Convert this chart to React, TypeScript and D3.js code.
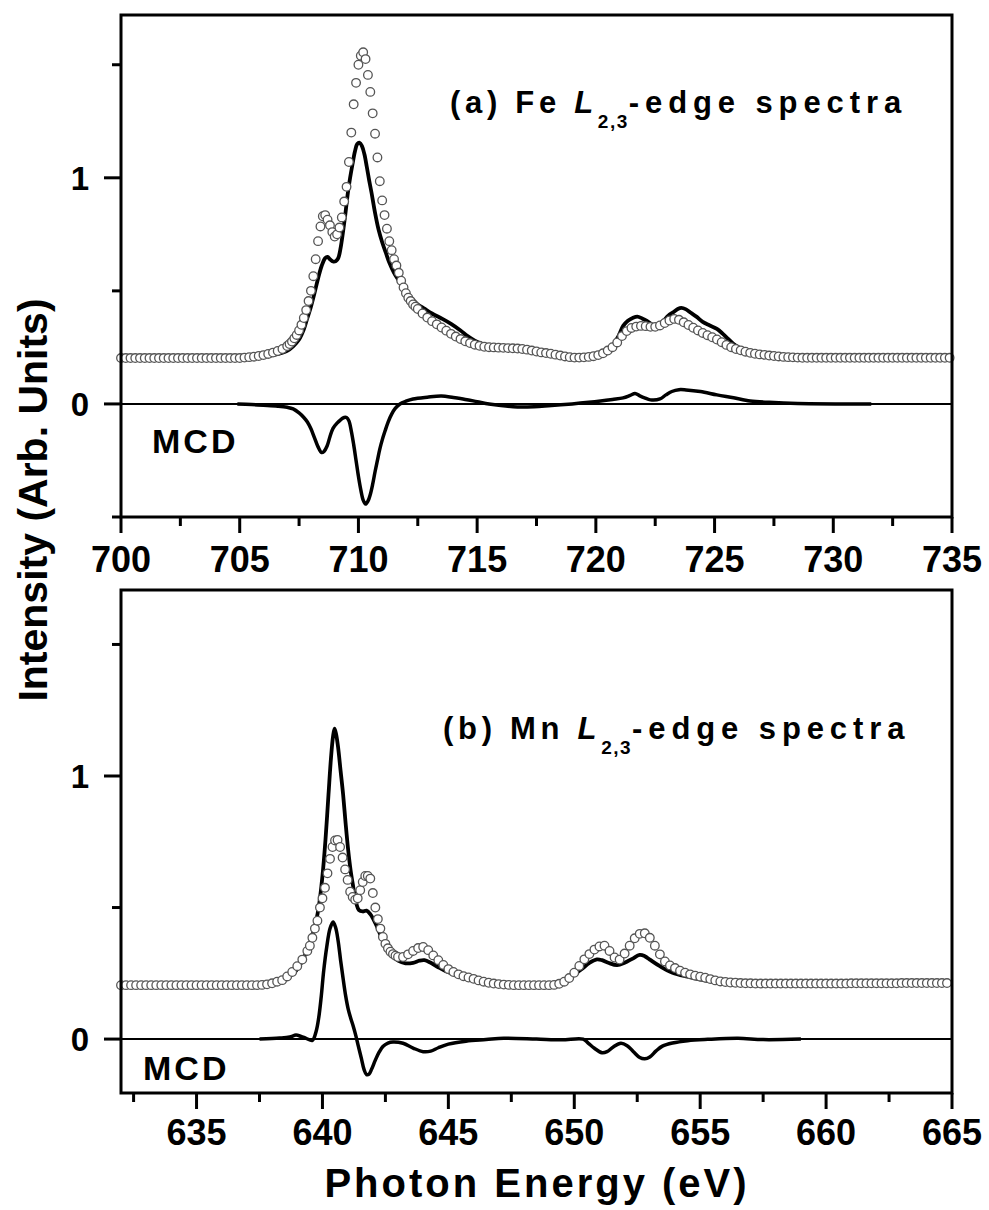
import React from 'react';
import * as d3 from 'd3';

type Pt = [number, number];

// ---- (a) Fe L2,3-edge ----
// XAS (open circles)
const feXasPts: Pt[] = [
  [700, .203], [700.2, .203], [700.4, .203], [700.6, .203], [700.8, .203], [701, .203], [701.2, .203], [701.4, .203],
  [701.6, .203], [701.8, .203], [702, .203], [702.2, .203], [702.4, .203], [702.6, .203], [702.8, .203], [703, .203],
  [703.2, .203], [703.4, .203], [703.6, .203], [703.8, .203], [704, .203], [704.2, .203], [704.4, .203], [704.6, .203],
  [704.8, .203], [705, .203], [705.2, .205], [705.4, .207], [705.6, .209], [705.8, .212], [706, .216], [706.2, .221],
  [706.4, .227], [706.6, .234], [706.8, .243], [707, .256], [707.1, .265], [707.2, .276], [707.3, .29], [707.4, .305],
  [707.5, .325], [707.6, .35], [707.7, .38], [707.8, .415], [707.9, .455], [708, .5], [708.1, .565], [708.2, .64],
  [708.3, .72], [708.4, .785], [708.5, .83], [708.6, .835], [708.7, .815], [708.8, .79], [708.9, .76], [709, .74],
  [709.1, .75], [709.2, .78], [709.3, .825], [709.4, .895], [709.5, .96], [709.6, 1.07], [709.7, 1.2], [709.8, 1.325],
  [709.9, 1.42], [710, 1.5], [710.1, 1.54], [710.2, 1.555], [710.3, 1.525], [710.4, 1.455], [710.5, 1.38], [710.6, 1.285],
  [710.7, 1.195], [710.8, 1.09], [710.9, .985], [711, .9], [711.1, .835], [711.2, .775], [711.3, .72], [711.4, .68],
  [711.5, .64], [711.6, .612], [711.7, .58], [711.8, .545], [711.9, .515], [712, .49], [712.1, .47], [712.2, .455],
  [712.3, .44], [712.4, .43], [712.5, .42], [712.7, .4], [712.9, .382], [713.1, .366], [713.3, .352], [713.5, .338],
  [713.7, .324], [713.9, .31], [714.1, .298], [714.3, .287], [714.5, .277], [714.7, .269], [714.9, .262], [715.1, .257],
  [715.3, .253], [715.5, .251], [715.7, .25], [715.9, .249], [716.1, .248], [716.3, .247], [716.5, .246], [716.7, .245],
  [716.9, .243], [717.1, .24], [717.3, .236], [717.5, .232], [717.7, .228], [717.9, .225], [718.1, .222], [718.3, .218],
  [718.5, .214], [718.7, .21], [718.9, .207], [719.1, .205], [719.3, .205], [719.5, .206], [719.7, .208], [719.9, .211],
  [720.1, .216], [720.3, .224], [720.5, .236], [720.7, .251], [720.9, .272], [721.1, .3], [721.3, .322], [721.5, .336],
  [721.7, .342], [721.9, .345], [722.1, .344], [722.3, .341], [722.5, .341], [722.7, .347], [722.9, .358], [723.1, .369],
  [723.3, .376], [723.5, .372], [723.7, .361], [723.9, .349], [724.1, .337], [724.3, .325], [724.5, .314], [724.7, .304],
  [724.9, .295], [725.1, .285], [725.3, .273], [725.5, .261], [725.7, .251], [725.9, .243], [726.1, .237], [726.3, .231],
  [726.5, .226], [726.7, .222], [726.9, .219], [727.1, .217], [727.3, .214], [727.5, .212], [727.7, .21], [727.9, .208],
  [728.1, .207], [728.3, .206], [728.5, .205], [728.7, .204], [728.9, .204], [729.1, .204], [729.3, .204], [729.5, .204],
  [729.7, .204], [729.9, .204], [730.1, .204], [730.3, .204], [730.5, .204], [730.7, .204], [730.9, .204], [731.1, .204],
  [731.3, .204], [731.5, .204], [731.7, .204], [731.9, .204], [732.1, .204], [732.3, .204], [732.5, .204], [732.7, .204],
  [732.9, .204], [733.1, .204], [733.3, .204], [733.5, .204], [733.7, .204], [733.9, .204], [734.1, .204], [734.3, .204],
  [734.5, .204], [734.7, .204], [734.9, .204],
];
// XAS (solid line)
const feXasLine: Pt[] = [
  [705, .203], [705.5, .205], [706, .21], [706.5, .218], [707, .235], [707.25, .255], [707.5, .285], [707.7, .33],
  [707.85, .38], [708, .43], [708.15, .49], [708.3, .555], [708.45, .61], [708.6, .645], [708.7, .65], [708.8, .64],
  [708.93, .63], [709.05, .632], [709.15, .645], [709.25, .69], [709.35, .76], [709.45, .84], [709.55, .93], [709.65, 1.0],
  [709.75, 1.06], [709.85, 1.115], [709.95, 1.15], [710.05, 1.155], [710.15, 1.14], [710.25, 1.105], [710.35, 1.05],
  [710.45, .99], [710.55, .935], [710.7, .845], [710.85, .77], [711, .715], [711.15, .67], [711.3, .625], [711.5, .58],
  [711.7, .545], [711.9, .51], [712.1, .48], [712.3, .46], [712.5, .44], [712.8, .42], [713.1, .4], [713.5, .378],
  [713.9, .354], [714.3, .325], [714.6, .3], [714.9, .28], [715.3, .262], [715.8, .252], [716.4, .25], [716.9, .245],
  [717.5, .235], [718.1, .224], [718.7, .212], [719.2, .205], [719.7, .21], [720.2, .226], [720.5, .245], [720.75, .265],
  [720.95, .3], [721.15, .345], [721.35, .368], [721.55, .38], [721.75, .386], [721.95, .378], [722.15, .367], [722.35, .352],
  [722.5, .345], [722.65, .352], [722.85, .368], [723.05, .39], [723.25, .405], [723.45, .42], [723.6, .425], [723.8, .418],
  [724, .403], [724.25, .385], [724.5, .363], [724.8, .347], [725.1, .332], [725.35, .31], [725.55, .29], [725.8, .265],
  [726.1, .245], [726.5, .23], [727, .219], [727.5, .212], [728, .208], [728.5, .205],
];
// MCD
const feMcd: Pt[] = [
  [704.9, 0], [705.5, -.003], [706, -.006], [706.6, -.01], [707, -.015], [707.25, -.022], [707.5, -.04], [707.7, -.06],
  [707.85, -.08], [708, -.11], [708.15, -.15], [708.3, -.19], [708.45, -.215], [708.55, -.21], [708.68, -.186],
  [708.8, -.145], [708.93, -.108], [709.1, -.085], [709.25, -.07], [709.4, -.06], [709.5, -.06], [709.6, -.075],
  [709.7, -.12], [709.8, -.18], [709.9, -.25], [710, -.32], [710.1, -.38], [710.2, -.425], [710.3, -.443], [710.4, -.43],
  [710.5, -.4], [710.6, -.355], [710.7, -.3], [710.8, -.25], [710.9, -.2], [711, -.16], [711.12, -.12], [711.25, -.08],
  [711.4, -.045], [711.55, -.02], [711.75, 0], [712, .012], [712.3, .022], [712.9, .03], [713.5, .035], [714, .028],
  [714.5, .02], [715, .01], [715.5, 0], [716, -.007], [716.7, -.013], [717.4, -.012], [718, -.008], [719, 0],
  [719.7, .007], [720.2, .013], [720.7, .02], [721.15, .027], [721.45, .038], [721.65, .046], [721.85, .036],
  [722.05, .027], [722.3, .018], [722.7, .022], [722.95, .04], [723.2, .055], [723.5, .063], [723.8, .062], [724.4, .055],
  [725.1, .04], [725.8, .027], [726.5, .013], [727.3, .007], [728.5, .002], [731.6, 0],
];

// ---- (b) Mn L2,3-edge ----
const mnXasPts: Pt[] = [
  [632, .205], [632.2, .205], [632.4, .205], [632.6, .205], [632.8, .205], [633, .205], [633.2, .205], [633.4, .205],
  [633.6, .205], [633.8, .205], [634, .205], [634.2, .205], [634.4, .205], [634.6, .205], [634.8, .205], [635, .205],
  [635.2, .205], [635.4, .205], [635.6, .205], [635.8, .205], [636, .205], [636.2, .205], [636.4, .205], [636.6, .205],
  [636.8, .205], [637, .205], [637.2, .205], [637.4, .205], [637.6, .206], [637.8, .208], [638, .212], [638.2, .218],
  [638.4, .224], [638.6, .238], [638.8, .255], [639, .277], [639.2, .302], [639.4, .335], [639.5, .355], [639.6, .385],
  [639.7, .42], [639.8, .45], [639.9, .5], [640, .535], [640.1, .575], [640.2, .63], [640.3, .685], [640.4, .73],
  [640.5, .755], [640.6, .757], [640.7, .73], [640.8, .69], [640.9, .645], [641, .605], [641.1, .56], [641.2, .54],
  [641.3, .53], [641.4, .535], [641.5, .566], [641.6, .597], [641.7, .62], [641.8, .62], [641.9, .61], [642, .555],
  [642.1, .5], [642.2, .456], [642.3, .42], [642.4, .388], [642.5, .362], [642.6, .345], [642.7, .332], [642.8, .323],
  [642.9, .317], [643, .312], [643.2, .312], [643.4, .322], [643.6, .335], [643.8, .346], [644, .35], [644.2, .338],
  [644.4, .318], [644.6, .3], [644.8, .282], [645, .266], [645.2, .255], [645.4, .246], [645.6, .239], [645.8, .234],
  [646, .229], [646.2, .223], [646.4, .218], [646.6, .214], [646.8, .211], [647, .209], [647.2, .207], [647.4, .206],
  [647.6, .205], [647.8, .205], [648, .205], [648.2, .205], [648.4, .205], [648.6, .205], [648.8, .205], [649, .205],
  [649.2, .206], [649.4, .21], [649.6, .218], [649.8, .232], [650, .252], [650.2, .278], [650.4, .303], [650.6, .323],
  [650.8, .34], [651, .352], [651.2, .355], [651.4, .335], [651.6, .31], [651.8, .302], [652, .325], [652.2, .355],
  [652.4, .383], [652.6, .4], [652.8, .402], [653, .385], [653.2, .355], [653.4, .322], [653.6, .295], [653.8, .28],
  [654, .27], [654.2, .26], [654.4, .252], [654.6, .246], [654.8, .241], [655, .237], [655.2, .233], [655.4, .228],
  [655.6, .223], [655.8, .219], [656, .217], [656.2, .215], [656.4, .214], [656.6, .213], [656.8, .212], [657, .212],
  [657.2, .211], [657.4, .211], [657.6, .211], [657.8, .211], [658, .211], [658.2, .211], [658.4, .211], [658.6, .211],
  [658.8, .211], [659, .211], [659.2, .211], [659.4, .211], [659.6, .211], [659.8, .211], [660, .211], [660.2, .211],
  [660.4, .211], [660.6, .211], [660.8, .211], [661, .212], [661.2, .212], [661.4, .212], [661.6, .212], [661.8, .212],
  [662, .212], [662.2, .212], [662.4, .212], [662.6, .212], [662.8, .212], [663, .213], [663.2, .213], [663.4, .213],
  [663.6, .213], [663.8, .213], [664, .213], [664.2, .213], [664.4, .213], [664.6, .213], [664.8, .213],
];
const mnXasLine: Pt[] = [
  [636.5, .205], [637, .206], [637.5, .208], [638, .215], [638.4, .226], [638.8, .245], [639.1, .28], [639.4, .34],
  [639.65, .41], [639.85, .5], [640, .62], [640.12, .757], [640.24, .93], [640.34, 1.07], [640.42, 1.15], [640.48, 1.18],
  [640.54, 1.16], [640.62, 1.11], [640.72, 1.02], [640.82, .93], [640.92, .82], [641.02, .72], [641.12, .64], [641.22, .58],
  [641.32, .525], [641.45, .49], [641.6, .485], [641.75, .488], [641.9, .475], [642.05, .45], [642.2, .42], [642.35, .385],
  [642.55, .348], [642.8, .315], [643, .298], [643.3, .288], [643.6, .29], [643.85, .298], [644.05, .3], [644.3, .29],
  [644.6, .273], [644.9, .258], [645.35, .243], [646, .228], [646.8, .214], [647.5, .207], [648.5, .205], [649.05, .206],
  [649.4, .215], [649.75, .228], [650, .245], [650.3, .266], [650.6, .29], [650.9, .303], [651.1, .3], [651.35, .29],
  [651.7, .281], [652, .29], [652.3, .305], [652.6, .32], [652.8, .315], [653, .302], [653.4, .277], [653.9, .252],
  [654.5, .237], [655.5, .218], [656.3, .21], [657.5, .206], [659, .205],
];
const mnMcd: Pt[] = [
  [637.5, 0], [638.3, .004], [638.7, .008], [638.95, .015], [639.15, .01], [639.35, .003], [639.6, -.005], [639.75, .03],
  [639.85, .08], [639.95, .16], [640.05, .26], [640.17, .35], [640.3, .42], [640.42, .445], [640.52, .425], [640.62, .375],
  [640.72, .3], [640.82, .23], [640.92, .165], [641.02, .115], [641.12, .08], [641.22, .05], [641.32, .015], [641.42, -.025],
  [641.55, -.075], [641.65, -.115], [641.75, -.135], [641.85, -.133], [641.95, -.115], [642.1, -.08], [642.25, -.05],
  [642.4, -.028], [642.6, -.015], [642.8, -.011], [643.2, -.016], [643.6, -.034], [644, -.048], [644.3, -.046],
  [644.6, -.033], [645, -.019], [645.7, -.008], [646.5, -.002], [647.2, .003], [648.5, 0], [649.5, -.003], [650.35, 0],
  [650.55, -.015], [650.8, -.035], [651.1, -.052], [651.3, -.048], [651.55, -.03], [651.85, -.016], [652.1, -.025],
  [652.35, -.048], [652.6, -.07], [652.8, -.075], [653, -.068], [653.25, -.045], [653.5, -.027], [653.9, -.015],
  [654.5, -.006], [655.3, -.001], [656.5, .003], [657.5, -.002], [659, 0],
];

// ticks
const feMajor = [700, 705, 710, 715, 720, 725, 730, 735];
const feMinor = [702.5, 707.5, 712.5, 717.5, 722.5, 727.5, 732.5];
const mnMajor = [635, 640, 645, 650, 655, 660, 665];
const mnMinor = [632.5, 637.5, 642.5, 647.5, 652.5, 657.5, 662.5];
const yMajor = [0, 1];
const feYMinor = [-0.5, 0.5, 1.5];
const mnYMinor = [0.5, 1.5];

const FONT = '"Liberation Sans", Arial, Helvetica, sans-serif';
const L = 121;
const R = 952;

type PanelProps = {
  xDomain: [number, number];
  yDomain: [number, number];
  top: number;
  bottom: number;
  major: number[];
  minor: number[];
  yMinor: number[];
  pts: Pt[];
  xasLine: Pt[];
  mcd: Pt[];
  xLabelY: number;
  mcdX: number;
  mcdY: number;
  title: string;
  titleX: number;
  titleY: number;
};

function Panel(p: PanelProps) {
  const x = d3.scaleLinear().domain(p.xDomain).range([L, R]);
  const y = d3.scaleLinear().domain(p.yDomain).range([p.bottom, p.top]);
  const line = d3.line<Pt>().x(d => x(d[0])).y(d => y(d[1])).curve(d3.curveCatmullRom.alpha(0.5));

  return (
    <g>
      <line x1={L} x2={R} y1={y(0)} y2={y(0)} stroke="#000" strokeWidth={2} />
      <path d={line(p.mcd) || ''} fill="none" stroke="#000" strokeWidth={3.5} strokeLinejoin="round" />
      <path d={line(p.xasLine) || ''} fill="none" stroke="#000" strokeWidth={3.8} strokeLinejoin="round" />
      {p.pts.map((d, i) => (
        <circle key={i} cx={x(d[0])} cy={y(d[1])} r={4.3} fill="#fff" stroke="#555" strokeWidth={1.3} />
      ))}
      <rect x={L} y={p.top} width={R - L} height={p.bottom - p.top} fill="none" stroke="#000" strokeWidth={3} />

      {p.major.map(t => (
        <g key={'M' + t}>
          <line x1={x(t)} x2={x(t)} y1={p.bottom} y2={p.bottom + 16} stroke="#000" strokeWidth={3} />
          <text x={x(t)} y={p.xLabelY} textAnchor="middle" fontSize={36} fontWeight="bold" fontFamily={FONT}>{t}</text>
        </g>
      ))}
      {p.minor.map(t => (
        <line key={'m' + t} x1={x(t)} x2={x(t)} y1={p.bottom} y2={p.bottom + 9} stroke="#000" strokeWidth={3} />
      ))}
      {yMajor.map(t => (
        <g key={'Y' + t}>
          <line x1={L - 17} x2={L} y1={y(t)} y2={y(t)} stroke="#000" strokeWidth={3} />
          <text x={89} y={y(t) + 12} textAnchor="end" fontSize={33} fontWeight="bold" fontFamily={FONT}>{t}</text>
        </g>
      ))}
      {p.yMinor.map(t => (
        <line key={'y' + t} x1={L - 9} x2={L} y1={y(t)} y2={y(t)} stroke="#000" strokeWidth={3} />
      ))}

      <text x={p.mcdX} y={p.mcdY} fontSize={34} fontWeight="bold" fontFamily={FONT} letterSpacing={3}>MCD</text>

      <text x={p.titleX} y={p.titleY} fontSize={31} fontWeight="bold" fontFamily={FONT}>
        <tspan letterSpacing={4.7}>{p.title} </tspan>
        <tspan fontStyle="italic" letterSpacing={4.7}>L</tspan>
        <tspan fontSize={19} dy={15} letterSpacing={1.5}>2,3</tspan>
        <tspan dy={-15} letterSpacing={5.9}>-edge spectra</tspan>
      </text>
    </g>
  );
}

export default function App() {
  return (
    <svg width={989} height={1210} style={{ position: 'absolute', left: 0, top: 0, background: '#fff' }}>
      <rect width={989} height={1210} fill="#fff" />
      <Panel
        xDomain={[700, 735]} yDomain={[-0.5, 1.72]} top={15} bottom={517}
        major={feMajor} minor={feMinor} yMinor={feYMinor}
        pts={feXasPts} xasLine={feXasLine} mcd={feMcd}
        xLabelY={572} mcdX={152} mcdY={453}
        title="(a) Fe" titleX={450} titleY={113}
      />
      <Panel
        xDomain={[632, 665]} yDomain={[-0.205, 1.707]} top={590} bottom={1093}
        major={mnMajor} minor={mnMinor} yMinor={mnYMinor}
        pts={mnXasPts} xasLine={mnXasLine} mcd={mnMcd}
        xLabelY={1145} mcdX={143} mcdY={1080}
        title="(b) Mn" titleX={443} titleY={739}
      />
      <text x={537} y={1197} textAnchor="middle" fontSize={40} fontWeight="bold" fontFamily={FONT} letterSpacing={3}>
        Photon Energy (eV)
      </text>
      <text transform="translate(47,500) rotate(-90)" textAnchor="middle" fontSize={41} fontWeight="bold" fontFamily={FONT}>
        Intensity (Arb. Units)
      </text>
    </svg>
  );
}
